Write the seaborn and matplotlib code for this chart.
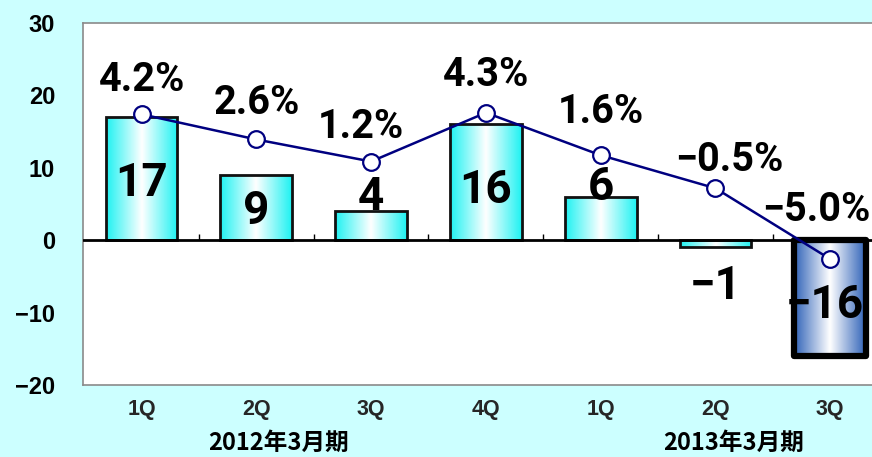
import numpy as np
import pandas as pd
import matplotlib
matplotlib.use("Agg")
import matplotlib.pyplot as plt
import seaborn as sns
from matplotlib.colors import LinearSegmentedColormap

# ---- data ----
quarters = ["1Q", "2Q", "3Q", "4Q", "1Q", "2Q", "3Q"]
periods = ["2012年3月期"] * 4 + ["2013年3月期"] * 3
values = [17, 9, 4, 16, 6, -1, -16]
growth = [4.2, 2.6, 1.2, 4.3, 1.6, -0.5, -5.0]
value_labels = ["17", "9", "4", "16", "6", "−1", "−16"]
growth_labels = ["4.2%", "2.6%", "1.2%", "4.3%", "1.6%", "−0.5%", "−5.0%"]
yticks = [-20, -10, 0, 10, 20, 30]
group_labels = ["2012年3月期", "2013年3月期"]

# ---- layout (not data) ----
bar_label_y = [7.9, 4.1, 6.0, 7.0, 7.4, -6.3, -8.9]
bar_label_dx = [0, 0, 0, 0, 0, 0, -5]
pct_offsets_px = [(1, 34), (0, 36), (-10, 35), (0, 38), (0, 43), (14, 28), (-14, 49)]
group_x = [1.19, 5.16]

sns.set_theme(style="white")
plt.rcParams["font.family"] = ["Liberation Sans", "DejaVu Sans"]
plt.rcParams["axes.unicode_minus"] = True

COND = dict(family=["Roboto", "DejaVu Sans"], stretch="condensed", fontweight="bold")
CJK = ["Noto Sans CJK JP", "DejaVu Sans"]

fig = plt.figure(figsize=(8.72, 4.57), dpi=100, facecolor="#CCFFFF")
ax = fig.add_axes([83 / 872, 72 / 457, 1 - 83 / 872 + 0.01, 362 / 457])
ax.set_facecolor("white")

df = pd.DataFrame({"key": [p + q for p, q in zip(periods, quarters)], "value": values})
sns.barplot(data=df, x="key", y="value", ax=ax, width=0.625, color="#33FFFF",
            edgecolor="#111111", linewidth=2, saturation=1, zorder=2)

n = len(values)
cyan_cmap = LinearSegmentedColormap.from_list("cy", ["#1EF2F2", "#FFFFFF", "#1EF2F2"])
blue_cmap = LinearSegmentedColormap.from_list("bl", ["#2F62B8", "#FFFFFF", "#2F62B8"])
grad = np.linspace(0, 1, 256).reshape(1, -1)
for i, p in enumerate(ax.patches):
    x0, y0 = p.get_x(), p.get_y()
    w, h = p.get_width(), p.get_height()
    cmap = blue_cmap if i == n - 1 else cyan_cmap
    im = ax.imshow(grad, cmap=cmap, aspect="auto",
                   extent=[x0, x0 + w, min(y0, y0 + h), max(y0, y0 + h)],
                   zorder=1.9, interpolation="bicubic")
    im.set_clip_path(p)
    p.set_facecolor("none")
    if i == n - 1:
        p.set_linewidth(4.5)
        p.set_edgecolor("black")
        p.set_joinstyle("round")

ax.set_xlim(-0.51, 6.44)
ax.set_ylim(-20, 30)
ax.set_yticks(yticks)
ax.set_yticklabels([f"{t}".replace("-", "−") for t in yticks],
                   fontsize=17, fontweight="bold", color="black")
ax.tick_params(axis="y", length=0, pad=20)
ax.set_xticks(range(n))
ax.set_xticklabels(quarters, fontsize=15.5, fontweight="bold")
ax.tick_params(axis="x", length=0, pad=10)
ax.set_xlabel("")
ax.set_ylabel("")

for s in ["left", "top", "bottom"]:
    ax.spines[s].set_color("#8a8a8a")
    ax.spines[s].set_linewidth(1.2)
ax.spines["right"].set_visible(False)

ax.axhline(0, color="black", lw=2, zorder=3)
ax.vlines(np.arange(n - 1) + 0.5, 0, 0.8, color="black", lw=1, zorder=3)

for i, (yv, lab) in enumerate(zip(bar_label_y, value_labels)):
    ax.annotate(lab, (i, yv), xytext=(bar_label_dx[i], 0), textcoords="offset pixels",
                ha="center", va="center", fontsize=33, color="black", zorder=5, **COND)

for gx, gl in zip(group_x, group_labels):
    ax.text(gx, -0.16, gl, transform=ax.get_xaxis_transform(), ha="center", va="center",
            fontsize=17, fontweight="bold", family=CJK, color="black")

ax2 = ax.twinx()
ax2.set_ylim(-13, 10)
sns.lineplot(x=np.arange(n), y=growth, ax=ax2, color="#000080", lw=1.8,
             marker="o", markersize=12, markerfacecolor="white",
             markeredgecolor="#000080", markeredgewidth=1.6, zorder=6)
ax2.set_yticks([])
for s in ax2.spines.values():
    s.set_visible(False)
ax2.set_ylabel("")

for i, (g, lab) in enumerate(zip(growth, growth_labels)):
    dx, dy = pct_offsets_px[i]
    ax2.annotate(lab, (i, g), xytext=(dx, dy), textcoords="offset pixels",
                 ha="center", va="center", fontsize=28.5, color="black", zorder=7, **COND)

fig.savefig("out.png", dpi=100, facecolor=fig.get_facecolor())
